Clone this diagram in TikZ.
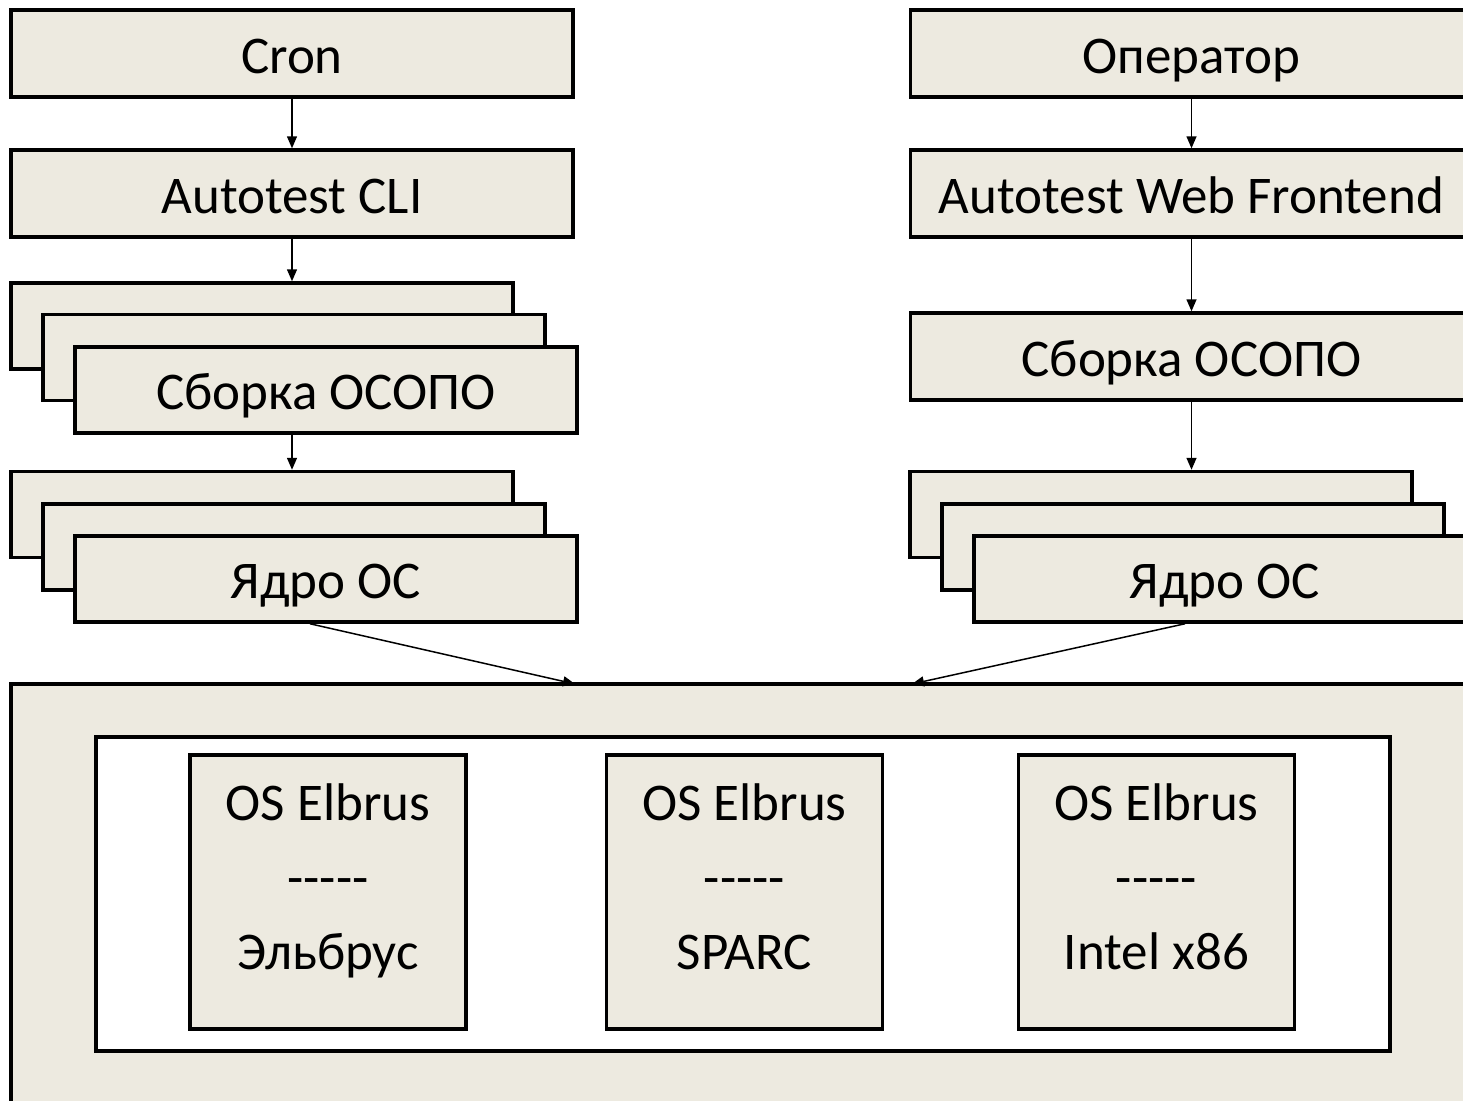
\documentclass[tikz,border=0pt]{standalone}
\usepackage{fontspec}
\newfontfamily\cf{Carlito}
\usetikzlibrary{arrows.meta}
\definecolor{beige}{RGB}{237,234,224}
\begin{document}
\begin{tikzpicture}[x=1pt,y=-1pt,
  box/.style={draw=black, line width=3.5pt, fill=beige, minimum width=562pt, minimum height=87pt,
    inner sep=0pt, text height=39pt, text depth=0pt, font=\cf\fontsize{53}{64}\selectfont},
  stackbox/.style={box, minimum width=502pt, minimum height=86pt},
  archbox/.style={draw=black, line width=3.5pt, fill=beige, minimum width=276pt, minimum height=274pt, inner sep=0pt},
  archtext/.style={align=center, inner sep=0pt, font=\cf\fontsize{53}{74.5}\selectfont},
  arr/.style={-{Triangle[length=12pt,width=10pt]}, line width=1.5pt},
  ]
\useasboundingbox (0,0) rectangle (1463,1100);
\clip (0,0) rectangle (1463,1100);
% left column
\node[box] (cron) at (292,53.5) {Cron};
\node[box] (cli) at (292,193.5) {Autotest CLI};
\node[stackbox] (s1) at (262,326) {};
\node[stackbox] (s2) at (294,357.5) {};
\node[stackbox] (s3) at (326,390) {Сборка ОСОПО};
\node[stackbox] (y1) at (262,514.5) {};
\node[stackbox] (y2) at (294,547) {};
\node[stackbox] (y3) at (326,579) {Ядро ОС};
% right column
\node[box] (op) at (1191.5,53.5) {Оператор};
\node[box] (web) at (1191.5,193.5) {Autotest Web Frontend};
\node[box] (sb) at (1191.5,356.5) {Сборка ОСОПО};
\node[stackbox] (r1) at (1161,514.5) {};
\node[stackbox] (r2) at (1193,547) {};
\node[stackbox] (r3) at (1225,579) {Ядро ОС};
% bottom
\node[draw=black, line width=3.5pt, fill=beige, minimum width=1539pt, minimum height=516pt, inner sep=0pt] (big) at (780.5,942) {};
\node[draw=black, line width=3.5pt, fill=white, minimum width=1294pt, minimum height=314pt, inner sep=0pt] (inner) at (743,894) {};
\node[archbox] (a1) at (328,892) {};
\node[archbox] (a2) at (744.5,892) {};
\node[archbox] (a3) at (1156.5,892) {};
\node[archtext] (t1) at (328,881) {OS Elbrus\\-----\\Эльбрус\vphantom{Эру}};
\node[archtext] (t2) at (744.5,881) {OS Elbrus\\-----\\SPARC\vphantom{Эру}};
\node[archtext] (t3) at (1156.5,881) {OS Elbrus\\-----\\Intel x86\vphantom{Эру}};
\coordinate (inL) at (575,684);
\coordinate (inR) at (912,684);
% connectors
\draw[arr] (cron.south) -- (cli.north);
\draw[arr] (cli.south) -- (cli.south |- s1.north);
\draw[arr] (s3.south -| cli.south) -- (y1.north -| cli.south);
\draw[arr] ([xshift=-16pt]y3.south) -- (inL);
\draw[arr] (op.south) -- (web.north);
\draw[arr] (web.south) -- (sb.north);
\draw[arr] (sb.south) -- (sb.south |- r1.north);
\draw[arr] ([xshift=-40pt]r3.south) -- (inR);
\end{tikzpicture}
\end{document}
